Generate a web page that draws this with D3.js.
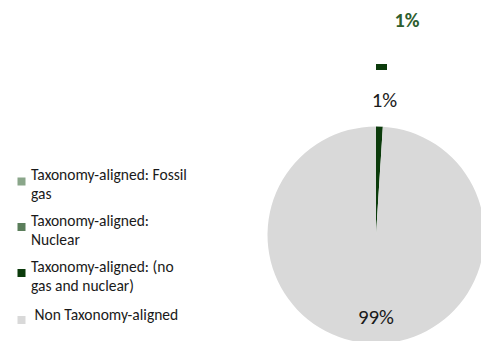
<!DOCTYPE html>
<html>
<head>
<meta charset="utf-8">
<script src="https://cdn.jsdelivr.net/npm/d3@7"></script>
<style>
  html, body { margin: 0; padding: 0; background: #ffffff; }
  svg { display: block; }
  text { font-family: Carlito, Lato, "Liberation Sans", sans-serif; }
</style>
</head>
<body>
<svg id="chart" width="481" height="341"></svg>
<script>
// ---- data ----
const categories = [
  "Taxonomy-aligned: Fossil gas",
  "Taxonomy-aligned: Nuclear",
  "Taxonomy-aligned: (no gas and nuclear)",
  "Non Taxonomy-aligned"
];
const legendLines = [
  ["Taxonomy-aligned: Fossil", "gas"],
  ["Taxonomy-aligned:", "Nuclear"],
  ["Taxonomy-aligned: (no", "gas and nuclear)"],
  [" Non Taxonomy-aligned"]
];
const values = [0, 0, 1, 99];
const colors = ["#8aa68a", "#5b7e5b", "#0b3b0b", "#d9d9d9"];
const titleText = "1%";

// ---- layout ----
const W = 481, H = 341;
const cx = 376, cy = 235, r = 108.5;

const svg = d3.select("#chart");
svg.append("rect").attr("width", W).attr("height", H).attr("fill", "#ffffff");

// fit font size so that a string gets a target width
function fitSize(str, target, weight) {
  const t = svg.append("text").attr("font-size", 20)
    .attr("font-weight", weight || "normal")
    .attr("xml:space", "preserve").text(str);
  const w = t.node().getComputedTextLength();
  t.remove();
  return 20 * target / w;
}

const data = categories.map((c, i) => ({ name: c, value: values[i], color: colors[i] }));

const pie = d3.pie().sort(null).value(d => d.value).startAngle(0).endAngle(2 * Math.PI);
const arcs = pie(data);
const arc = d3.arc().innerRadius(0).outerRadius(r);

const g = svg.append("g").attr("transform", `translate(${cx},${cy})`);
g.selectAll("path")
  .data(arcs.filter(d => d.value > 0))
  .join("path")
  .attr("d", arc)
  .attr("fill", d => d.data.color);

const fmt = v => d3.format(".0f")(v) + "%";
const labelSize = fitSize("99%", 36);

// labels
const small = arcs[2];
g.append("text")
  .attr("x", 8.5)
  .attr("y", -r - 19.5)
  .attr("text-anchor", "middle")
  .attr("font-size", labelSize)
  .attr("fill", "#1a1a1a")
  .text(fmt(small.data.value));

// dash marker above (zero-value series label)
g.append("rect")
  .attr("x", 0)
  .attr("y", -r - 62.5)
  .attr("width", 11)
  .attr("height", 6)
  .attr("fill", colors[2]);

const big = arcs[3];
g.append("text")
  .attr("x", 0)
  .attr("y", 89)
  .attr("text-anchor", "middle")
  .attr("font-size", labelSize)
  .attr("fill", "#1a1a1a")
  .text(fmt(big.data.value));

// title
svg.append("text")
  .attr("x", 407)
  .attr("y", 27)
  .attr("text-anchor", "middle")
  .attr("font-size", fitSize(titleText, 25, "bold"))
  .attr("font-weight", "bold")
  .attr("fill", "#2e5e2e")
  .text(titleText);

// legend
const legendSize = fitSize(legendLines[0][0], 156);
const rowY = [177.5, 223, 269, 316];
const baseY = [179.5, 226, 271.7, 320];
const leg = svg.append("g");
data.forEach((d, i) => {
  leg.append("rect")
    .attr("x", 17.5).attr("y", rowY[i])
    .attr("width", 8).attr("height", 8)
    .attr("fill", d.color);
  const t = leg.append("text")
    .attr("font-size", legendSize)
    .attr("fill", "#1a1a1a")
    .attr("xml:space", "preserve")
    .style("white-space", "pre");
  legendLines[i].forEach((line, j) => {
    t.append("tspan")
      .attr("x", 31)
      .attr("y", baseY[i] + j * 19)
      .text(line);
  });
});
</script>
</body>
</html>
